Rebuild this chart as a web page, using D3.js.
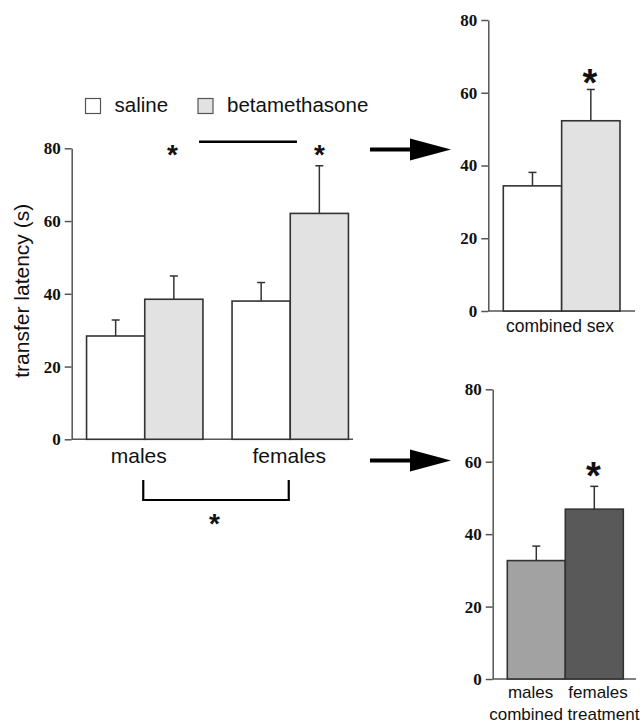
<!DOCTYPE html>
<html>
<head>
<meta charset="utf-8">
<script src="https://cdn.jsdelivr.net/npm/d3@7"></script>
<style>
  body { margin: 0; background: #fff; }
  .tick text { font-family: "Liberation Serif", "DejaVu Serif", serif; font-weight: bold; font-size: 17px; fill: #111; }
  .lbl { font-family: "Liberation Sans", Arial, sans-serif; fill: #111; }
</style>
</head>
<body>
<div id="chart"></div>
<script>
// main panel: sex x treatment
const groups = ["males", "females"];
const treatments = ["saline", "betamethasone"];
const salineMean = [28.4, 38.0];
const salineSem = [4.4, 5.1];
const betaMean = [38.5, 62.1];
const betaSem = [6.4, 13.1];

// top right: treatment, sexes combined
const combinedSexLabels = ["saline", "betamethasone"];
const combinedSexMean = [34.4, 52.3];
const combinedSexSem = [3.7, 8.6];

// bottom right: sex, treatments combined
const combinedTreatLabels = ["males", "females"];
const combinedTreatMean = [32.7, 46.9];
const combinedTreatSem = [4.0, 6.3];

const yTicks = [0, 20, 40, 60, 80];

const width = 643,
  height = 723;

const fills = {
  saline: "#ffffff",
  betamethasone: "#e2e2e2",
  males: "#a2a2a2",
  females: "#595959",
};
const barStroke = "#333";
const axisColor = "#555";

const svg = d3
  .select("#chart")
  .append("svg")
  .attr("width", width)
  .attr("height", height);

// draws a y axis + baseline for a panel
function drawAxes(g, y, x0, xEnd) {
  const ax = g
    .append("g")
    .attr("transform", `translate(${x0},0)`)
    .call(d3.axisLeft(y).tickValues(yTicks).tickSize(7).tickSizeOuter(0).tickPadding(4));
  ax.select(".domain").attr("stroke", axisColor).attr("stroke-width", 1.5);
  ax.selectAll(".tick line").attr("stroke", axisColor).attr("stroke-width", 1.5);
  g.append("line")
    .attr("x1", x0)
    .attr("x2", xEnd)
    .attr("y1", y(0))
    .attr("y2", y(0))
    .attr("stroke", axisColor)
    .attr("stroke-width", 1.5);
}

function drawBars(g, rows, y) {
  // rows: {x, w, mean, sem, fill}
  const bar = g.selectAll(null).data(rows).enter().append("g");
  bar
    .append("line")
    .attr("x1", (d) => d.x + d.w / 2)
    .attr("x2", (d) => d.x + d.w / 2)
    .attr("y1", (d) => y(d.mean))
    .attr("y2", (d) => y(d.mean + d.sem))
    .attr("stroke", barStroke)
    .attr("stroke-width", 1.5);
  bar
    .append("line")
    .attr("x1", (d) => d.x + d.w / 2 - 4)
    .attr("x2", (d) => d.x + d.w / 2 + 4)
    .attr("y1", (d) => y(d.mean + d.sem))
    .attr("y2", (d) => y(d.mean + d.sem))
    .attr("stroke", barStroke)
    .attr("stroke-width", 1.5);
  bar
    .append("rect")
    .attr("x", (d) => d.x)
    .attr("y", (d) => y(d.mean))
    .attr("width", (d) => d.w)
    .attr("height", (d) => y(0) - y(d.mean))
    .attr("fill", (d) => d.fill)
    .attr("stroke", barStroke)
    .attr("stroke-width", 1.6);
}

function star(g, x, yc, size) {
  // asterisk glyph sits high in the em box, shift baseline down
  g.append("text")
    .attr("class", "lbl")
    .attr("x", x)
    .attr("y", yc + size * 0.58)
    .attr("text-anchor", "middle")
    .style("font-size", size + "px")
    .style("font-weight", "bold")
    .text("*");
}

function arrow(g, x0, x1, yc) {
  g.append("line")
    .attr("x1", x0)
    .attr("x2", x1 - 38)
    .attr("y1", yc)
    .attr("y2", yc)
    .attr("stroke", "#000")
    .attr("stroke-width", 4);
  g.append("path")
    .attr("d", d3.line()([[x1 - 41, yc - 11], [x1, yc], [x1 - 41, yc + 11]]) + "Z")
    .attr("fill", "#000");
}

// ---------- main panel ----------
const mainG = svg.append("g");
const yMain = d3.scaleLinear().domain([0, 80]).range([439.3, 148.3]);
const xMain = d3
  .scaleBand()
  .domain(groups)
  .range([72, 363])
  .paddingInner(0.2)
  .paddingOuter(0.1);
const xSub = d3.scaleBand().domain(treatments).range([0, xMain.bandwidth()]);

const mainRows = [];
groups.forEach((grp, i) => {
  mainRows.push({ x: xMain(grp) + xSub("saline"), w: xSub.bandwidth(), mean: salineMean[i], sem: salineSem[i], fill: fills.saline });
  mainRows.push({ x: xMain(grp) + xSub("betamethasone"), w: xSub.bandwidth(), mean: betaMean[i], sem: betaSem[i], fill: fills.betamethasone });
});
drawAxes(mainG, yMain, 71.7, 353);
drawBars(mainG, mainRows, yMain);

mainG
  .selectAll(null)
  .data(groups)
  .enter()
  .append("text")
  .attr("class", "lbl")
  .attr("x", (d, i) => xMain(d) + xMain.bandwidth() / 2 - (i === 0 ? 6 : 1))
  .attr("y", 463)
  .attr("text-anchor", "middle")
  .style("font-size", "21px")
  .text((d) => d);

mainG
  .append("text")
  .attr("class", "lbl")
  .attr("transform", `translate(29,${(yMain(0) + yMain(80)) / 2 - 3}) rotate(-90)`)
  .attr("text-anchor", "middle")
  .style("font-size", "21px")
  .text("transfer latency (s)");

// legend
const legend = mainG.append("g");
const legendX = [85.5, 198];
treatments.forEach((t, i) => {
  legend
    .append("rect")
    .attr("x", legendX[i])
    .attr("y", 98.5)
    .attr("width", 15)
    .attr("height", 15)
    .attr("fill", fills[t])
    .attr("stroke", "#555")
    .attr("stroke-width", 1.2);
  legend
    .append("text")
    .attr("class", "lbl")
    .attr("x", legendX[i] + 29)
    .attr("y", 111.5)
    .style("font-size", "20.5px")
    .text(t);
});

// significance marks
const betaCx = groups.map((grp) => xMain(grp) + xSub("betamethasone") + xSub.bandwidth() / 2);
star(mainG, betaCx[0] - 1.5, 148, 28);
star(mainG, betaCx[1], 148, 28);
mainG
  .append("line")
  .attr("x1", 199)
  .attr("x2", 297)
  .attr("y1", 141.7)
  .attr("y2", 141.7)
  .attr("stroke", "#000")
  .attr("stroke-width", 2.5);

const grpCx = groups.map((grp) => xMain(grp) + xMain.bandwidth() / 2);
mainG
  .append("path")
  .attr("d", d3.line()([[grpCx[0] - 1.5, 480], [grpCx[0] - 1.5, 500], [grpCx[1] - 1.5, 500], [grpCx[1] - 1.5, 480]]))
  .attr("fill", "none")
  .attr("stroke", "#000")
  .attr("stroke-width", 2.2);
star(mainG, (grpCx[0] + grpCx[1]) / 2 - 3, 517, 28);

// arrows
arrow(svg, 370, 451, 149.5);
arrow(svg, 370, 451, 460.5);

// ---------- top right: combined sex ----------
const topG = svg.append("g");
const yTop = d3.scaleLinear().domain([0, 80]).range([311, 20]);
const xTop = d3.scaleBand().domain(combinedSexLabels).range([503.3, 620]);
drawAxes(topG, yTop, 488.3, 635);
drawBars(
  topG,
  combinedSexLabels.map((t, i) => ({ x: xTop(t), w: xTop.bandwidth(), mean: combinedSexMean[i], sem: combinedSexSem[i], fill: fills[t] })),
  yTop
);
star(topG, xTop("betamethasone") + xTop.bandwidth() / 2 - 1, 74, 38);
topG
  .append("text")
  .attr("class", "lbl")
  .attr("x", 560)
  .attr("y", 332)
  .attr("text-anchor", "middle")
  .style("font-size", "17.5px")
  .text("combined sex");

// ---------- bottom right: combined treatment ----------
const botG = svg.append("g");
const yBot = d3.scaleLinear().domain([0, 80]).range([679, 389.3]);
const xBot = d3.scaleBand().domain(combinedTreatLabels).range([507.3, 623.3]);
drawAxes(botG, yBot, 492.7, 636);
drawBars(
  botG,
  combinedTreatLabels.map((s, i) => ({ x: xBot(s), w: xBot.bandwidth(), mean: combinedTreatMean[i], sem: combinedTreatSem[i], fill: fills[s] })),
  yBot
);
star(botG, xBot("females") + xBot.bandwidth() / 2 - 1, 467, 38);
// first line: sex names, split either side of the bar boundary
botG
  .selectAll(null)
  .data(combinedTreatLabels)
  .enter()
  .append("text")
  .attr("class", "lbl")
  .attr("x", (d, i) => (i === 0 ? xBot("females") - 12 : xBot("females") + 3))
  .attr("y", 698)
  .attr("text-anchor", (d, i) => (i === 0 ? "end" : "start"))
  .style("font-size", "17px")
  .text((d) => d);
botG
  .append("text")
  .attr("class", "lbl")
  .attr("x", xBot("females") - 1)
  .attr("y", 720)
  .attr("text-anchor", "middle")
  .style("font-size", "17px")
  .text("combined treatment");
</script>
</body>
</html>
